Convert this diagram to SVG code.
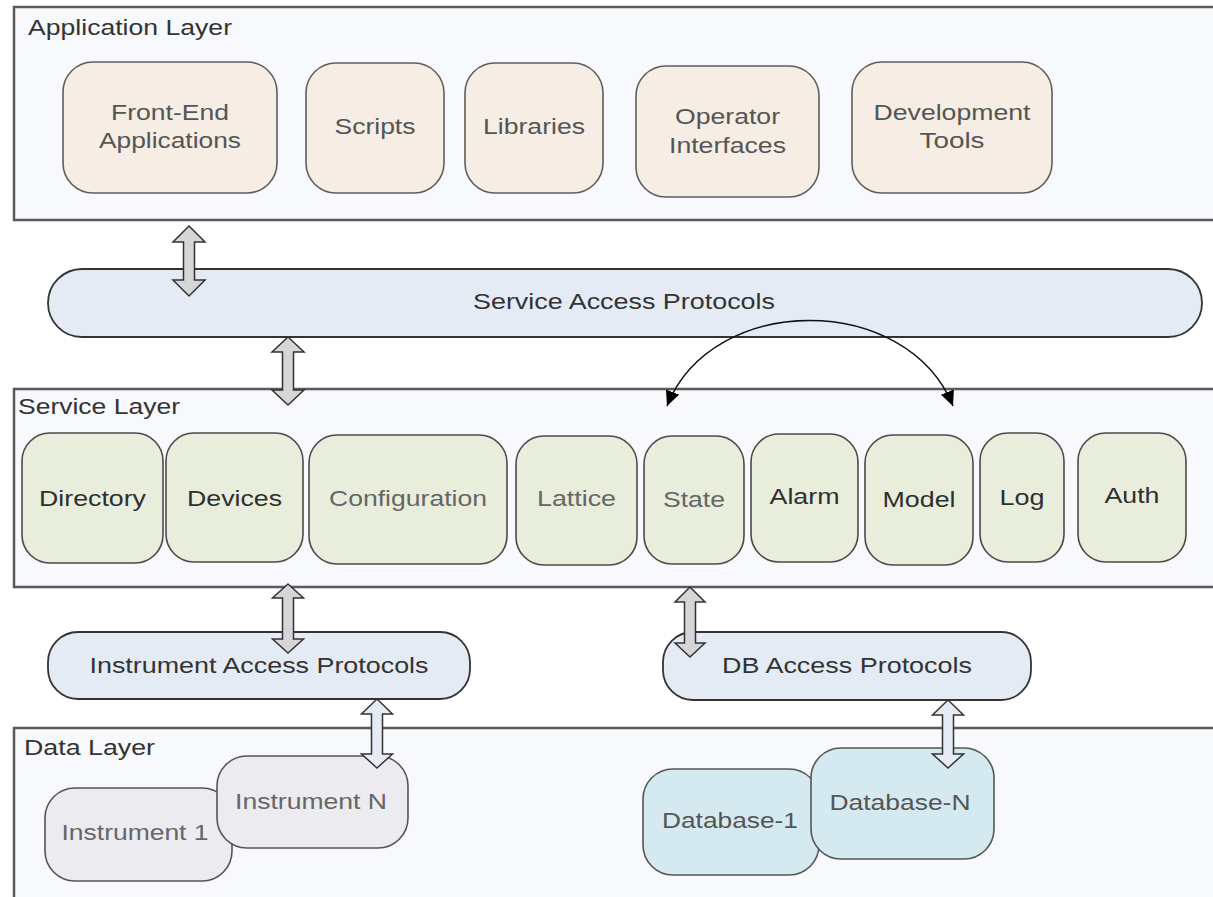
<svg xmlns="http://www.w3.org/2000/svg" width="1213" height="897" viewBox="0 0 1213 897">
  <style>
    text { font-family: "Liberation Sans", Arial, sans-serif; font-size: 22px; }
    .layer { fill: #f8f9fc; stroke: #5a5a5a; stroke-width: 2.5; }
    .layer-label { fill: #333; }
    .app { fill: #f6ede4; stroke: #5e5e5e; stroke-width: 1.6; }
    .app-text { fill: #555; text-anchor: middle; }
    .svc { fill: #e9eedc; stroke: #4a4a4a; stroke-width: 1.6; }
    .svc-dark { fill: #2f2f2f; text-anchor: middle; }
    .svc-light { fill: #666; text-anchor: middle; }
    .proto { fill: #e5ebf5; stroke: #333; stroke-width: 1.8; }
    .proto-text { fill: #333; text-anchor: middle; }
    .inst { fill: #ecebf0; stroke: #555; stroke-width: 1.6; }
    .inst-text { fill: #666; text-anchor: middle; }
    .db { fill: #d5eaf0; stroke: #555; stroke-width: 1.6; }
    .db-text { fill: #555; text-anchor: middle; }
    .dbl-gray { fill: #d6d6d6; stroke: #333; stroke-width: 1.5; stroke-linejoin: miter; }
    .dbl-blue { fill: #e6ecf6; stroke: #333; stroke-width: 1.5; stroke-linejoin: miter; }
    .curve { fill: none; stroke: #111; stroke-width: 1.5; }
  </style>
  <defs>
    <marker id="head" markerUnits="userSpaceOnUse" markerWidth="16" markerHeight="14" refX="15" refY="7" orient="auto-start-reverse">
      <path d="M0,0 L15,7 L0,14 Z" fill="#000"/>
    </marker>
  </defs>

  <rect width="1213" height="897" fill="#ffffff"/>

  <!-- layers -->
  <g id="application-layer">
    <rect class="layer" x="14" y="7" width="1215" height="213"/>
    <text class="layer-label" x="28" y="35" textLength="204" lengthAdjust="spacingAndGlyphs">Application Layer</text>
  </g>
  <g id="service-access-protocols">
    <rect class="proto" x="48" y="269" width="1154" height="68" rx="34"/>
    <text class="proto-text" x="624" y="309" textLength="302" lengthAdjust="spacingAndGlyphs">Service Access Protocols</text>
  </g>
  <g id="service-layer">
    <rect class="layer" x="14" y="389" width="1215" height="198"/>
    <text class="layer-label" x="18" y="414" textLength="162" lengthAdjust="spacingAndGlyphs">Service Layer</text>
  </g>
  <g id="instrument-access-protocols">
    <rect class="proto" x="48" y="632" width="422" height="67" rx="30"/>
    <text class="proto-text" x="259" y="673" textLength="339" lengthAdjust="spacingAndGlyphs">Instrument Access Protocols</text>
  </g>
  <g id="db-access-protocols">
    <rect class="proto" x="663" y="632" width="368" height="68" rx="30"/>
    <text class="proto-text" x="847" y="673" textLength="250" lengthAdjust="spacingAndGlyphs">DB Access Protocols</text>
  </g>
  <g id="data-layer">
    <rect class="layer" x="14" y="728" width="1215" height="190"/>
    <text class="layer-label" x="24" y="755" textLength="131" lengthAdjust="spacingAndGlyphs">Data Layer</text>
  </g>

  <!-- application layer nodes -->
  <g id="front-end-applications">
    <rect class="app" x="63" y="62" width="214" height="131" rx="30"/>
    <text class="app-text" x="170" y="120" textLength="118" lengthAdjust="spacingAndGlyphs">Front-End</text>
    <text class="app-text" x="170" y="148" textLength="142" lengthAdjust="spacingAndGlyphs">Applications</text>
  </g>
  <g id="scripts">
    <rect class="app" x="306" y="63" width="138" height="130" rx="30"/>
    <text class="app-text" x="375" y="134" textLength="81" lengthAdjust="spacingAndGlyphs">Scripts</text>
  </g>
  <g id="libraries">
    <rect class="app" x="465" y="63" width="138" height="130" rx="30"/>
    <text class="app-text" x="534" y="134" textLength="102" lengthAdjust="spacingAndGlyphs">Libraries</text>
  </g>
  <g id="operator-interfaces">
    <rect class="app" x="636" y="66" width="183" height="131" rx="30"/>
    <text class="app-text" x="727.5" y="124" textLength="105" lengthAdjust="spacingAndGlyphs">Operator</text>
    <text class="app-text" x="727.5" y="153" textLength="117" lengthAdjust="spacingAndGlyphs">Interfaces</text>
  </g>
  <g id="development-tools">
    <rect class="app" x="852" y="62" width="200" height="131" rx="30"/>
    <text class="app-text" x="952" y="120" textLength="157" lengthAdjust="spacingAndGlyphs">Development</text>
    <text class="app-text" x="952" y="148" textLength="65" lengthAdjust="spacingAndGlyphs">Tools</text>
  </g>

  <!-- service layer nodes -->
  <g id="directory">
    <rect class="svc" x="22" y="433" width="141" height="130" rx="28"/>
    <text class="svc-dark" x="92.5" y="506" textLength="107" lengthAdjust="spacingAndGlyphs">Directory</text>
  </g>
  <g id="devices">
    <rect class="svc" x="166" y="433" width="137" height="129" rx="28"/>
    <text class="svc-dark" x="234.5" y="506" textLength="95" lengthAdjust="spacingAndGlyphs">Devices</text>
  </g>
  <g id="configuration">
    <rect class="svc" x="309" y="435" width="198" height="129" rx="28"/>
    <text class="svc-light" x="408" y="506" textLength="158" lengthAdjust="spacingAndGlyphs">Configuration</text>
  </g>
  <g id="lattice">
    <rect class="svc" x="516" y="436" width="121" height="129" rx="28"/>
    <text class="svc-light" x="576.5" y="506" textLength="79" lengthAdjust="spacingAndGlyphs">Lattice</text>
  </g>
  <g id="state">
    <rect class="svc" x="644" y="436" width="100" height="128" rx="28"/>
    <text class="svc-light" x="694" y="507" textLength="62" lengthAdjust="spacingAndGlyphs">State</text>
  </g>
  <g id="alarm">
    <rect class="svc" x="751" y="434" width="107" height="128" rx="28"/>
    <text class="svc-dark" x="804.5" y="504" textLength="70" lengthAdjust="spacingAndGlyphs">Alarm</text>
  </g>
  <g id="model">
    <rect class="svc" x="865" y="435" width="108" height="130" rx="28"/>
    <text class="svc-dark" x="919" y="507" textLength="73" lengthAdjust="spacingAndGlyphs">Model</text>
  </g>
  <g id="log">
    <rect class="svc" x="980" y="433" width="84" height="129" rx="28"/>
    <text class="svc-dark" x="1022" y="505" textLength="45" lengthAdjust="spacingAndGlyphs">Log</text>
  </g>
  <g id="auth">
    <rect class="svc" x="1078" y="433" width="108" height="129" rx="28"/>
    <text class="svc-dark" x="1132" y="503" textLength="55" lengthAdjust="spacingAndGlyphs">Auth</text>
  </g>

  <!-- data layer nodes -->
  <g id="instrument-1">
    <rect class="inst" x="45" y="788" width="187" height="93" rx="30"/>
    <text class="inst-text" x="135" y="840" textLength="147" lengthAdjust="spacingAndGlyphs">Instrument 1</text>
  </g>
  <g id="instrument-n">
    <rect class="inst" x="217" y="756" width="191" height="92" rx="30"/>
    <text class="inst-text" x="311" y="809" textLength="152" lengthAdjust="spacingAndGlyphs">Instrument N</text>
  </g>
  <g id="database-1">
    <rect class="db" x="643" y="769" width="176" height="106" rx="30"/>
    <text class="db-text" x="730" y="828" textLength="136" lengthAdjust="spacingAndGlyphs">Database-1</text>
  </g>
  <g id="database-n">
    <rect class="db" x="811" y="748" width="183" height="111" rx="30"/>
    <text class="db-text" x="900" y="810" textLength="141" lengthAdjust="spacingAndGlyphs">Database-N</text>
  </g>

  <!-- connectors -->
  <g id="connectors">
    <!-- application layer <-> service access protocols -->
    <polygon class="dbl-gray" points="189,226 205,242 194.5,242 194.5,280 205,280 189,296 173,280 183.5,280 183.5,242 173,242"/>
    <!-- service access protocols <-> service layer -->
    <polygon class="dbl-gray" points="288,337 304,352 293.5,352 293.5,390 304,390 288,405 272,390 282.5,390 282.5,352 272,352"/>
    <!-- service layer <-> instrument access protocols -->
    <polygon class="dbl-gray" points="288,584 303.5,598 293.5,598 293.5,639 303.5,639 288,653 272.5,639 282.5,639 282.5,598 272.5,598"/>
    <!-- service layer <-> db access protocols -->
    <polygon class="dbl-gray" points="690,587 705,602 695.5,602 695.5,643 705,643 690,657 675,643 684.5,643 684.5,602 675,602"/>
    <!-- instrument access protocols <-> instruments -->
    <polygon class="dbl-blue" points="377,699 392.5,714 382.5,714 382.5,754 392.5,754 377,768 361.5,754 371.5,754 371.5,714 361.5,714"/>
    <!-- db access protocols <-> databases -->
    <polygon class="dbl-blue" points="948,700 963.5,715 953.5,715 953.5,754 963.5,754 948,768 932.5,754 942.5,754 942.5,715 932.5,715"/>
    <!-- state <-> model -->
    <path class="curve" d="M667,406 C712,292 907,292 953,406" marker-start="url(#head)" marker-end="url(#head)"/>
  </g>
</svg>
